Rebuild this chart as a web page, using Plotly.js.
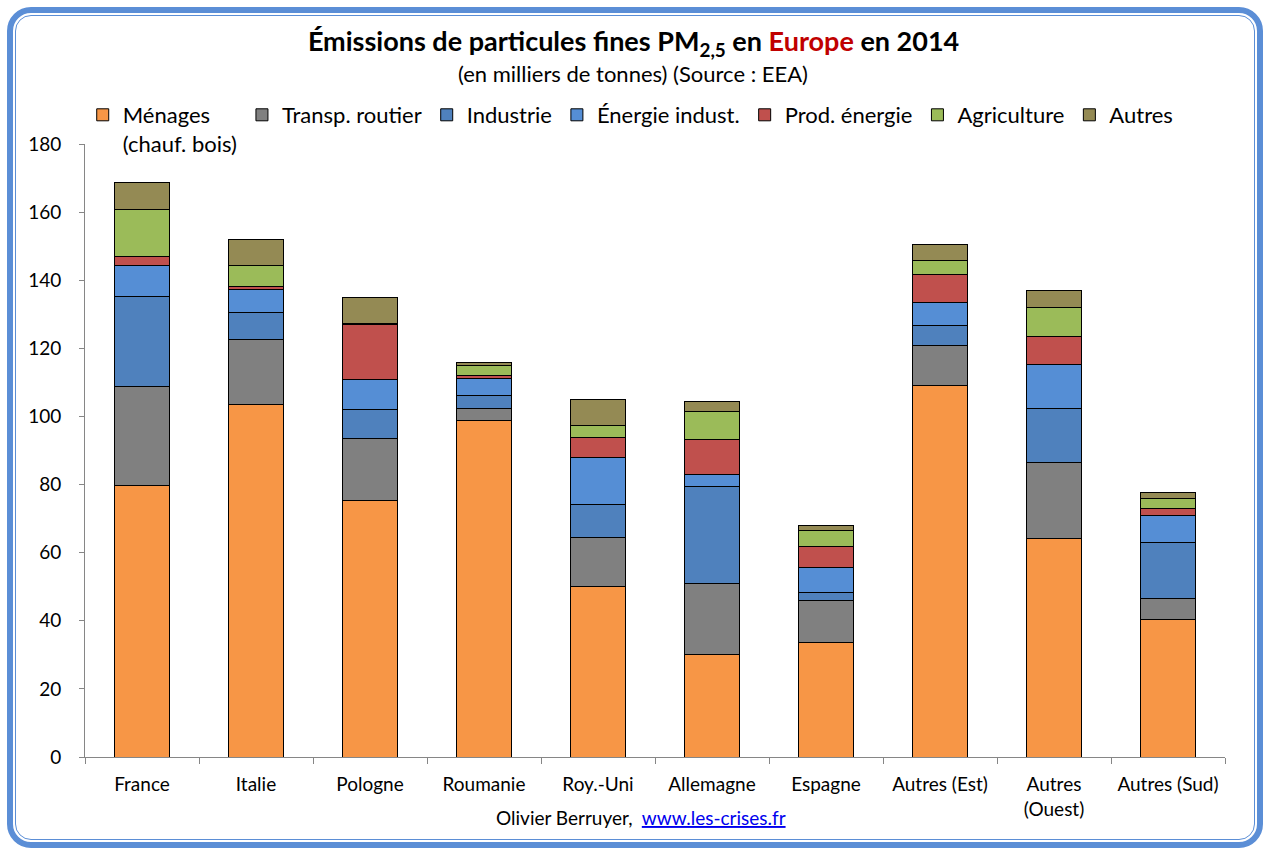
<!DOCTYPE html>
<html>
<head>
<meta charset="utf-8">
<script src="https://cdn.plot.ly/plotly-3.0.1.min.js"></script>
<style>
  html, body { margin: 0; padding: 0; background: #ffffff; }
  #wrap { position: relative; width: 1271px; height: 854px; overflow: hidden; }
  #chart { position: absolute; left: 0; top: 0; width: 1271px; height: 854px; }
  .frame { position: absolute; box-sizing: border-box; pointer-events: none; border-style: solid; border-color: #5B8ED6; }
  #f1 { left: 7px; top: 7px; width: 1256px; height: 841px; border-width: 6px; border-radius: 24px; }
  #f2 { left: 15px; top: 15px; width: 1240px; height: 825px; border-width: 1.5px; border-radius: 16px; }
</style>
</head>
<body>
<div id="wrap">
  <div id="chart"></div>
  <div class="frame" id="f1"></div>
  <div class="frame" id="f2"></div>
</div>
<script>
const categories = ['France', 'Italie', 'Pologne', 'Roumanie', 'Roy.-Uni', 'Allemagne', 'Espagne', 'Autres (Est)', 'Autres<br>(Ouest)', 'Autres (Sud)'];

const menages       = [79.7, 103.6, 75.4, 98.9, 50.1, 30.2, 33.5, 109.1, 64.2, 40.4];
const transpRoutier = [29.1, 19.1, 18.2, 3.5, 14.4, 20.8, 12.5, 11.8, 22.4, 6.2];
const industrie     = [26.4, 7.9, 8.5, 3.8, 9.7, 28.5, 2.4, 5.9, 15.8, 16.4];
const energieIndust = [9.1, 6.8, 8.8, 5.0, 13.8, 3.5, 7.3, 6.7, 12.9, 8.0];
const prodEnergie   = [2.6, 0.9, 16.2, 0.9, 5.9, 10.3, 6.2, 8.2, 8.2, 1.9];
const agriculture   = [13.8, 5.9, 0.3, 2.8, 3.5, 8.2, 4.7, 4.1, 8.5, 3.1];
const autres        = [7.9, 7.9, 7.6, 1.0, 7.6, 2.9, 1.4, 4.7, 5.0, 1.6];

const seriesNames = ['Ménages<br>(chauf. bois)', 'Transp. routier', 'Industrie', 'Énergie indust.', 'Prod. énergie', 'Agriculture', 'Autres'];
const seriesValues = [menages, transpRoutier, industrie, energieIndust, prodEnergie, agriculture, autres];
const seriesColors = ['#F79646', '#808080', '#4F81BD', '#558ED5', '#C0504D', '#9BBB59', '#948A54'];

const FONT = 'Lato, "Open Sans", "DejaVu Sans", sans-serif';

const traces = seriesNames.map((name, i) => ({
  type: 'bar',
  name: name,
  x: categories,
  y: seriesValues[i],
  width: 0.48,
  marker: { color: seriesColors[i], line: { color: '#000000', width: 1 } },
  hoverinfo: 'x+y+name'
}));

const layout = {
  width: 1271,
  height: 854,
  paper_bgcolor: '#ffffff',
  plot_bgcolor: '#ffffff',
  barmode: 'stack',
  margin: { l: 85, r: 46, t: 144, b: 97, pad: 0 },
  font: { family: FONT, color: '#000000', size: 18 },
  title: {
    text: 'Émissions de particules fines PM<sub>2,5</sub> en <span style="color:#C00000">Europe</span> en 2014',
    font: { family: FONT, size: 27, color: '#000000', weight: 'bold' },
    xref: 'container', x: 0.4985, xanchor: 'center',
    yref: 'container', y: 1 - 42 / 854, yanchor: 'middle'
  },
  showlegend: true,
  legend: {
    orientation: 'h',
    x: -0.002, xanchor: 'left',
    y: 1 + (144 - 94) / 613, yanchor: 'top',
    valign: 'top',
    traceorder: 'normal',
    font: { family: FONT, size: 22, color: '#000000' },
    bgcolor: 'rgba(0,0,0,0)',
    itemclick: false, itemdoubleclick: false
  },
  xaxis: {
    type: 'category',
    showgrid: false,
    showline: true, linecolor: '#868686', linewidth: 1,
    ticks: 'outside', tickson: 'boundaries', ticklen: 6, tickcolor: '#868686',
    ticklabelstandoff: 10,
    tickfont: { family: FONT, size: 19, color: '#000000' },
    fixedrange: true
  },
  yaxis: {
    range: [0, 180],
    dtick: 20,
    showgrid: false,
    zeroline: false,
    showline: true, linecolor: '#868686', linewidth: 1,
    ticks: 'outside', ticklen: 5, tickcolor: '#868686',
    ticklabelstandoff: 14,
    tickfont: { family: FONT, size: 19, color: '#000000' },
    fixedrange: true
  },
  annotations: [
    {
      text: '(en milliers de tonnes) (Source : EEA)',
      xref: 'paper', yref: 'paper',
      x: (633 - 85) / 1140, y: 1 + (144 - 73) / 613,
      xanchor: 'center', yanchor: 'middle',
      showarrow: false,
      font: { family: FONT, size: 22, color: '#000000' }
    },
    {
      text: 'Olivier Berruyer,  <a href="http://www.les-crises.fr"><span style="color:#0000EE"><u>www.les-crises.fr</u></span></a>',
      xref: 'paper', yref: 'paper',
      x: (641 - 85) / 1140, y: -(817 - 757) / 613,
      xanchor: 'center', yanchor: 'middle',
      showarrow: false,
      font: { family: FONT, size: 19, color: '#000000' }
    }
  ]
};

Plotly.newPlot('chart', traces, layout, { displayModeBar: false, staticPlot: false });
</script>
</body>
</html>
